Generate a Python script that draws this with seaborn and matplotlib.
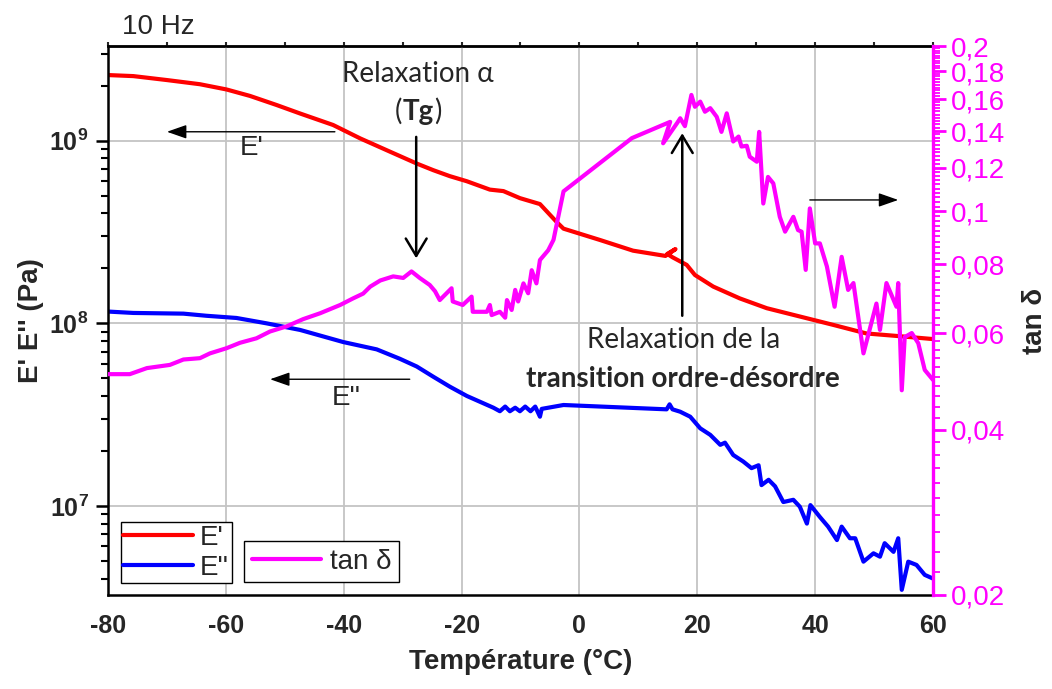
import numpy as np
import pandas as pd
import matplotlib
matplotlib.use("Agg")
import matplotlib.pyplot as plt
import matplotlib.ticker as mticker
import seaborn as sns

# ---------------- data ----------------
temp_storage = [-80.0, -75.7, -70.0, -64.4, -59.9, -55.9, -51.4, -47.4, -41.8, -37.2,
                -32.1, -27.6, -24.8, -22.0, -19.1, -15.2, -12.9, -10.1, -6.7, -3.9,
                -2.7, 3.5, 9.1, 14.6, 16.3, 14.9, 15.8, 18.2, 19.6, 22.7,
                27.2, 31.8, 37.4, 43.1, 48.7, 54.4, 60.0]
e_storage = [2.29e9, 2.26e9, 2.15e9, 2.04e9, 1.91e9, 1.76e9, 1.57e9, 1.41e9, 1.22e9, 1.03e9,
             8.7e8, 7.5e8, 6.9e8, 6.4e8, 6.0e8, 5.4e8, 5.3e8, 4.85e8, 4.5e8, 3.6e8,
             3.3e8, 2.86e8, 2.5e8, 2.34e8, 2.55e8, 2.40e8, 2.30e8, 2.09e8, 1.84e8, 1.59e8,
             1.37e8, 1.21e8, 1.09e8, 9.8e7, 8.8e7, 8.5e7, 8.2e7]

temp_loss = [-80.0, -75.7, -67.2, -63.3, -58.2, -53.1, -47.4, -40.1, -34.4, -30.5,
             -27.6, -24.8, -22.0, -19.1, -14.6, -13.5, -12.6, -11.8, -10.9, -10.1,
             -9.2, -8.3, -7.5, -6.7, -6.4, -2.7, 14.8, 15.3, 15.8, 17.1,
             18.8, 20.5, 22.2, 23.9, 24.7, 26.1, 27.8, 29.2, 30.4, 30.9,
             32.1, 33.2, 34.6, 36.3, 37.4, 38.6, 39.2, 40.8, 42.2, 43.7,
             44.5, 45.9, 46.8, 48.2, 49.9, 51.0, 51.8, 53.3, 54.1, 54.7,
             55.8, 57.2, 58.6, 60.0]
e_loss = [1.16e8, 1.14e8, 1.13e8, 1.10e8, 1.07e8, 1.00e8, 9.2e7, 7.9e7, 7.2e7, 6.4e7,
          5.8e7, 5.1e7, 4.5e7, 4.0e7, 3.45e7, 3.3e7, 3.5e7, 3.3e7, 3.45e7, 3.3e7,
          3.5e7, 3.3e7, 3.5e7, 3.08e7, 3.4e7, 3.57e7, 3.38e7, 3.6e7, 3.38e7, 3.28e7,
          3.08e7, 2.66e7, 2.45e7, 2.16e7, 2.22e7, 1.90e7, 1.75e7, 1.61e7, 1.67e7, 1.30e7,
          1.39e7, 1.28e7, 1.05e7, 1.08e7, 9.9e6, 8.0e6, 1.01e7, 8.7e6, 7.7e6, 6.5e6,
          7.7e6, 6.65e6, 6.65e6, 4.95e6, 5.5e6, 5.27e6, 6.25e6, 5.6e6, 6.65e6, 3.47e6,
          4.95e6, 4.75e6, 4.19e6, 4.0e6]

temp_tan = [-80.0, -76.3, -73.4, -69.5, -67.2, -64.4, -62.7, -59.9, -57.6, -54.8,
            -52.5, -49.7, -46.9, -44.0, -40.6, -38.4, -36.7, -35.5, -33.8, -31.6,
            -29.9, -28.5, -27.1, -25.4, -24.5, -23.7, -21.7, -21.5, -19.8, -18.3,
            -18.1, -15.7, -15.2, -14.9, -13.5, -12.6, -12.3, -11.5, -10.9, -10.4,
            -9.5, -8.7, -8.1, -7.3, -6.7, -5.3, -4.4, -2.7, 8.9, 15.4,
            14.2, 16.6, 17.1, 17.9, 19.0, 19.6, 20.5, 21.3, 22.2, 23.3,
            24.1, 25.0, 26.1, 27.0, 27.5, 28.4, 28.9, 30.1, 30.5, 31.2,
            32.0, 32.9, 34.0, 34.9, 36.3, 37.1, 37.7, 38.4, 39.1, 40.0,
            40.8, 42.0, 43.3, 44.5, 45.6, 46.5, 48.2, 50.4, 51.0, 52.1,
            53.8, 54.1, 54.7, 55.2, 56.4, 57.5, 58.6, 60.0]
tan_delta = [0.0505, 0.0505, 0.0518, 0.0525, 0.0537, 0.0540, 0.0551, 0.0563, 0.0576, 0.0587,
             0.0604, 0.0617, 0.0636, 0.0652, 0.0675, 0.0694, 0.0708, 0.0729, 0.0748, 0.0761,
             0.0756, 0.0777, 0.0756, 0.0734, 0.0715, 0.0689, 0.0724, 0.0685, 0.0675, 0.0699,
             0.0656, 0.0656, 0.0675, 0.0647, 0.0656, 0.0640, 0.0689, 0.0661, 0.0719, 0.0685,
             0.0739, 0.0709, 0.0781, 0.0739, 0.0815, 0.0849, 0.0887, 0.1087, 0.1359, 0.1455,
             0.1330, 0.1449, 0.1477, 0.1429, 0.1629, 0.1550, 0.1584, 0.1518, 0.1541, 0.1486,
             0.1395, 0.1508, 0.1340, 0.1368, 0.1312, 0.1316, 0.1257, 0.1231, 0.1395, 0.1033,
             0.1155, 0.1124, 0.0977, 0.0918, 0.0977, 0.0924, 0.0918, 0.0782, 0.1012, 0.0874,
             0.0874, 0.0793, 0.0670, 0.0826, 0.0719, 0.0740, 0.0551, 0.0679, 0.0608, 0.0740,
             0.0670, 0.0740, 0.0472, 0.0590, 0.0600, 0.0575, 0.0514, 0.0493]

x_ticks = [-80, -60, -40, -20, 0, 20, 40, 60]
left_ticks = [1e7, 1e8, 1e9]
tan_ticks = [0.02, 0.04, 0.06, 0.08, 0.1, 0.12, 0.14, 0.16, 0.18, 0.2]
tan_tick_labels = ["0,02", "0,04", "0,06", "0,08", "0,1", "0,12", "0,14", "0,16", "0,18", "0,2"]

# ---------------- style ----------------
sns.set_style("white")
plt.rcParams["font.family"] = ["Liberation Sans", "DejaVu Sans"]
plt.rcParams["mathtext.fontset"] = "custom"
plt.rcParams["mathtext.bf"] = "Liberation Sans:bold"
plt.rcParams["mathtext.rm"] = "Liberation Sans"
plt.rcParams["mathtext.it"] = "Liberation Sans:italic"

RED, BLUE, MAG = "#ff0000", "#0000ff", "#ff00ff"
CAL = ["Lato", "DejaVu Sans"]
LW = 3.0

fig = plt.figure(figsize=(10.52, 6.89), dpi=100)
ax = fig.add_axes([108 / 1052, 1 - 595 / 689, 825 / 1052, 549 / 689])
ax.set_yscale("log")
ax2 = ax.twinx()
ax2.set_yscale("log")

df_s = pd.DataFrame({"T": temp_storage, "E": e_storage})
df_l = pd.DataFrame({"T": temp_loss, "E": e_loss})
df_t = pd.DataFrame({"T": temp_tan, "tan": tan_delta})

sns.lineplot(data=df_s, x="T", y="E", sort=False, estimator=None, color=RED, lw=LW, ax=ax, label="E'")
sns.lineplot(data=df_l, x="T", y="E", sort=False, estimator=None, color=BLUE, lw=LW, ax=ax, label="E''")
sns.lineplot(data=df_t, x="T", y="tan", sort=False, estimator=None, color=MAG, lw=LW, ax=ax2, label="tan δ")

# ---------------- axes ----------------
ax.set_xlim(-80, 60)
ax.set_xticks(x_ticks, labels=[str(v) for v in x_ticks], fontweight="bold", fontsize=18)
ax.xaxis.set_minor_locator(mticker.MultipleLocator(10))
ax.set_yticks(left_ticks, labels=[r"$\mathbf{10^{%d}}$" % round(np.log10(v)) for v in left_ticks], fontsize=18)
ax.yaxis.set_minor_locator(mticker.LogLocator(base=10, subs=np.arange(2, 10), numticks=30))
ax.yaxis.set_minor_formatter(mticker.NullFormatter())
ax.set_ylim(10 ** 6.512, 10 ** 9.519)

ax.tick_params(axis="both", which="major", direction="out", length=9, width=1.8, color="black", pad=5)
ax.tick_params(axis="both", which="minor", direction="out", length=5, width=1.5, color="black")
ax.tick_params(axis="x", which="both", top=False)

ax.grid(True, which="major", color="#c4c4c4", lw=1.3)
ax.grid(False, which="minor")
ax.set_axisbelow(True)

for s in ["left", "bottom", "top"]:
    ax.spines[s].set_linewidth(1.8)
    ax.spines[s].set_color("black")
ax.spines["right"].set_visible(False)
for s in ["left", "bottom", "top"]:
    ax2.spines[s].set_visible(False)
ax2.spines["right"].set_color(MAG)
ax2.spines["right"].set_linewidth(2.4)

sec = ax.secondary_xaxis("top")
sec.set_xticks(np.arange(-80, 61, 10))
sec.tick_params(axis="x", length=3, width=1.5, labeltop=False)
sec.spines["top"].set_linewidth(1.8)

ax2.set_yticks(tan_ticks, labels=tan_tick_labels, fontsize=20, color=MAG)
ax2.yaxis.set_minor_locator(mticker.FixedLocator(np.arange(0.02, 0.2001, 0.002)))
ax2.yaxis.set_minor_formatter(mticker.NullFormatter())
ax2.set_ylim(0.02, 0.2)
ax2.tick_params(axis="y", which="major", direction="out", length=9, width=2, colors=MAG, pad=4)
ax2.tick_params(axis="y", which="minor", direction="out", length=5, width=1.3, color=MAG)

ax.set_xlabel("Température (°C)", fontsize=20, fontweight="bold")
ax.xaxis.set_label_coords(0.5, (595 - 649) / 549)
ax.set_ylabel("E' E'' (Pa)", fontsize=20, fontweight="bold")
ax.yaxis.set_label_coords((44 - 108) / 825, 0.5)
ax2.set_ylabel("tan δ", fontsize=20, fontweight="bold")
ax2.yaxis.set_label_coords((1022 - 108) / 825, 0.5)

# ---------------- legends ----------------
h1, l1 = ax.get_legend_handles_labels()
h2, l2 = ax2.get_legend_handles_labels()
leg1 = ax.legend(h1, l1, loc="lower left", bbox_to_anchor=(0.0154, 0.0213), borderaxespad=0,
                 fontsize=20, frameon=True, fancybox=False, framealpha=1, edgecolor="black",
                 borderpad=0.1, handlelength=2.5, handletextpad=0.25, labelspacing=0.12)
leg1.get_frame().set_linewidth(1.0)
leg2 = ax2.legend(h2, l2, loc="lower left", bbox_to_anchor=(0.1648, 0.0231), borderaxespad=0,
                  fontsize=20, frameon=True, fancybox=False, framealpha=1, edgecolor="black",
                  borderpad=0.28, handlelength=2.5, handletextpad=0.3)
leg2.get_frame().set_linewidth(1.0)

# ---------------- annotations ----------------
fig.text(122 / 1052, 1 - 34 / 689, "10 Hz", fontsize=20, ha="left", va="baseline")

thin = dict(arrowstyle="-|>,head_length=0.8,head_width=0.28", color="black", lw=1.0,
            mutation_scale=15, shrinkA=0, shrinkB=0)
bold = dict(arrowstyle="->,head_length=0.5,head_width=0.3", color="black", lw=1.8,
            mutation_scale=25, shrinkA=0, shrinkB=0)

ax.annotate("", xy=(-70.0, 1.12e9), xytext=(-41.5, 1.12e9), arrowprops=thin)
ax.text(-57.6, 8.36e8, "E'", fontsize=20, ha="left", va="baseline")
ax.annotate("", xy=(-52.5, 4.94e7), xytext=(-28.8, 4.94e7), arrowprops=thin)
ax.text(-42.0, 3.57e7, "E''", fontsize=20, ha="left", va="baseline")
ax.annotate("", xy=(54.1, 4.74e8), xytext=(39.1, 4.74e8), arrowprops=thin)

ax.annotate("", xy=(-27.7, 2.27e8), xytext=(-27.7, 1.05e9), arrowprops=bold)
ax.annotate("", xy=(17.45, 1.10e9), xytext=(17.45, 1.10e8), arrowprops=bold)

ax.text(0.3758, 0.935, "Relaxation α", transform=ax.transAxes, fontsize=20, family=CAL,
        ha="center", va="baseline")
tg = ax.text(0.3758, 0.865, "Tg", transform=ax.transAxes, fontsize=20, family=CAL,
             fontweight="bold", ha="center", va="baseline")
ax.annotate("(", xy=(0, 0.865), xycoords=(tg, ax.transAxes), fontsize=20, family=CAL,
            ha="right", va="baseline")
ax.annotate(")", xy=(1, 0.865), xycoords=(tg, ax.transAxes), fontsize=20, family=CAL,
            ha="left", va="baseline")
ax.text(0.698, 0.449, "Relaxation de la", transform=ax.transAxes, fontsize=20, family=CAL,
        ha="center", va="baseline")
ax.text(0.6973, 0.379, "transition ordre-désordre", transform=ax.transAxes, fontsize=20,
        family=CAL, fontweight="bold", ha="center", va="baseline")

fig.savefig("out.png", dpi=100)
